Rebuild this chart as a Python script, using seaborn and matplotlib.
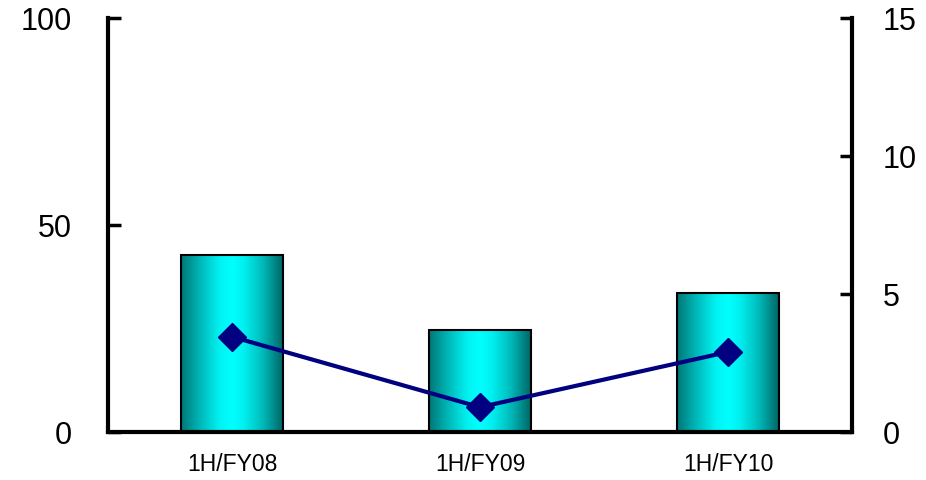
import numpy as np
import pandas as pd
import matplotlib
matplotlib.use("Agg")
import matplotlib.pyplot as plt
import seaborn as sns
from matplotlib.colors import LinearSegmentedColormap

categories = ["1H/FY08", "1H/FY09", "1H/FY10"]
bar_values = [42.7, 24.6, 33.6]
line_values = [3.45, 0.9, 2.9]
left_ticks = [0, 50, 100]
right_ticks = [0, 5, 10, 15]

sns.set_theme(style="white")
plt.rcParams['font.family'] = ['Liberation Sans', 'DejaVu Sans']
plt.rcParams['text.color'] = 'black'
plt.rcParams['xtick.color'] = 'black'
plt.rcParams['ytick.color'] = 'black'

fig = plt.figure(figsize=(9.26, 4.8), dpi=100)
ax = fig.add_axes([108/926, 1 - 432/480, 744/926, 414/480])

df = pd.DataFrame({"cat": categories, "val": bar_values})
sns.barplot(data=df, x="cat", y="val", ax=ax, width=0.41, color="#00cccc",
            edgecolor="black", linewidth=1.5, zorder=2)

cmap = LinearSegmentedColormap.from_list(
    "tealgrad", [(0.0, "#007777"), (0.2, "#00bcbc"), (0.38, "#00f2f2"), (0.5, "#00ffff"),
                 (0.62, "#00f0f0"), (0.8, "#00bbbb"), (1.0, "#006666")])
grad = np.linspace(0, 1, 256).reshape(1, -1)
for p in ax.patches:
    x0, y0 = p.get_x(), p.get_y()
    w, h = p.get_width(), p.get_height()
    im = ax.imshow(grad, cmap=cmap, aspect="auto", extent=[x0, x0 + w, y0, y0 + h],
                   zorder=2.5, interpolation="bicubic")
    im.set_clip_path(p)
    p.set_facecolor("none")
    p.set_zorder(3)

ax.set_xlim(-0.5, 2.5)
ax.set_ylim(0, 100)
ax.set_yticks(left_ticks)
ax.set_xticks([0.5, 1.5], minor=True)
ax.set_xticks(range(3))
ax.set_xticklabels(categories, fontsize=16.5, color="black")
ax.tick_params(axis="x", which="major", length=0, pad=15)
ax.tick_params(axis="x", which="minor", length=6, width=2.5, direction="in", color="black")
ax.tick_params(axis="y", length=9, width=2.5, direction="in", labelsize=22, pad=26,
               color="black", labelcolor="black")
ax.set_xlabel("")
ax.set_ylabel("")

ax2 = ax.twinx()
ax2.plot(range(3), line_values, color="#000080", linewidth=3, marker="D",
         markersize=14, zorder=5)
ax2.set_ylim(0, 15)
ax2.set_yticks(right_ticks)
ax2.tick_params(axis="y", length=9, width=2.5, direction="in", labelsize=22, pad=22,
                color="black", labelcolor="black")
ax2.set_xlim(-0.5, 2.5)

for a in (ax, ax2):
    a.spines["top"].set_visible(False)
    for s in ("left", "right", "bottom"):
        a.spines[s].set_linewidth(3)
        a.spines[s].set_color("black")
    a.grid(False)
ax.spines["right"].set_visible(False)
ax2.spines["left"].set_visible(False)
ax2.spines["bottom"].set_visible(False)

fig.savefig("out.png", dpi=100, facecolor="white")
